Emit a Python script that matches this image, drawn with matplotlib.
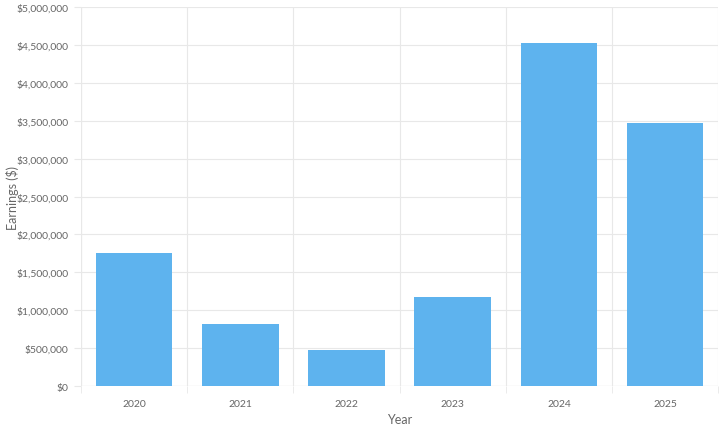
import matplotlib.pyplot as plt
from matplotlib.ticker import FuncFormatter, MultipleLocator

# data
years = ['2020', '2021', '2022', '2023', '2024', '2025']
earnings = [1750000, 820000, 470000, 1170000, 4530000, 3470000]

plt.rcParams['font.family'] = ['Lato', 'DejaVu Sans']

fig = plt.figure(figsize=(7.2, 4.31), dpi=100)
ax = fig.add_axes([0.1125, 0.102, 0.885, 0.879])

pos = list(range(len(years)))
ax.bar(pos, earnings, width=0.72, color='#5EB3EE', zorder=2)

ax.set_xlim(-0.5, len(years) - 0.5)
ax.set_ylim(0, 5000000)
ax.yaxis.set_major_locator(MultipleLocator(500000))
ax.yaxis.set_major_formatter(FuncFormatter(lambda v, p: '${:,.0f}'.format(v)))
ax.set_xticks(pos)
ax.set_xticklabels(years)

# vertical grid at category edges
ax.set_xticks([p - 0.5 for p in pos] + [len(years) - 0.5], minor=True)
ax.grid(True, axis='y', which='major', color='#e8e8e8', linewidth=0.8, zorder=0)
ax.grid(True, axis='x', which='minor', color='#e8e8e8', linewidth=0.8, zorder=0)

for s in ax.spines.values():
    s.set_visible(False)
ax.axhline(0, color='#d8d8d8', linewidth=0.8, zorder=1)
ax.axvline(-0.5, color='#e0e0e0', linewidth=0.8, zorder=1)

ax.tick_params(axis='x', which='major', length=0, pad=9, labelsize=7.5, labelcolor='#666666')
ax.tick_params(axis='x', which='minor', length=5, color='#e8e8e8')
ax.tick_params(axis='y', length=5, color='#e8e8e8', pad=4, labelsize=7.5, labelcolor='#666666')

ax.set_xlabel('Year', fontsize=9, color='#666666')
ax.xaxis.set_label_coords(0.5, -0.072)
ax.set_ylabel('Earnings ($)', fontsize=9, color='#666666')
ax.yaxis.set_label_coords(-0.098, 0.5)

fig.savefig('out.png', dpi=100)
